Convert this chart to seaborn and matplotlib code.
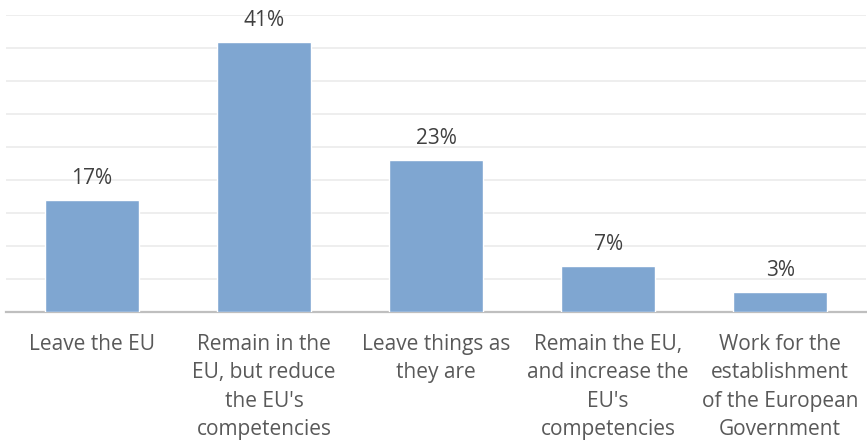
import matplotlib.pyplot as plt
import pandas as pd
import seaborn as sns

categories = [
    "Leave the EU",
    "Remain in the\nEU, but reduce\nthe EU's\ncompetencies",
    "Leave things as\nthey are",
    "Remain the EU,\nand increase the\nEU's\ncompetencies",
    "Work for the\nestablishment\nof the European\nGovernment",
]
shares = [17, 41, 23, 7, 3]
value_labels = ["17%", "41%", "23%", "7%", "3%"]

df = pd.DataFrame({"option": categories, "share": shares})

sns.set_theme(style="white")
plt.rcParams["font.family"] = ["Open Sans", "DejaVu Sans"]

fig = plt.figure(figsize=(8.67, 4.42), dpi=100)
ax = fig.add_axes([0.007, 0.294, 0.992, 0.671])

sns.barplot(x="option", y="share", data=df, color="#7FA6D1", saturation=1,
            width=0.55, ax=ax, zorder=3)

ax.set_ylim(0, 45)
ax.set_yticks(range(0, 46, 5))
ax.yaxis.grid(True, color="#EBEBEB", linewidth=1.2, zorder=0)
ax.set_yticklabels([])
ax.tick_params(axis="y", length=0)
ax.tick_params(axis="x", length=0, pad=16, labelsize=15, labelcolor="#595959")
for lbl in ax.get_xticklabels():
    lbl.set_linespacing(1.45)
    lbl.set_verticalalignment("top")

for i, (v, t) in enumerate(zip(shares, value_labels)):
    ax.annotate(t, (i, v), xytext=(0, 8), textcoords="offset points",
                ha="center", va="bottom", fontsize=15, color="#404040")

for side in ["top", "left", "right"]:
    ax.spines[side].set_visible(False)
ax.spines["bottom"].set_color("#BFBFBF")
ax.spines["bottom"].set_linewidth(1.6)
ax.set_xlabel("")
ax.set_ylabel("")

plt.savefig("out.png", dpi=100)
